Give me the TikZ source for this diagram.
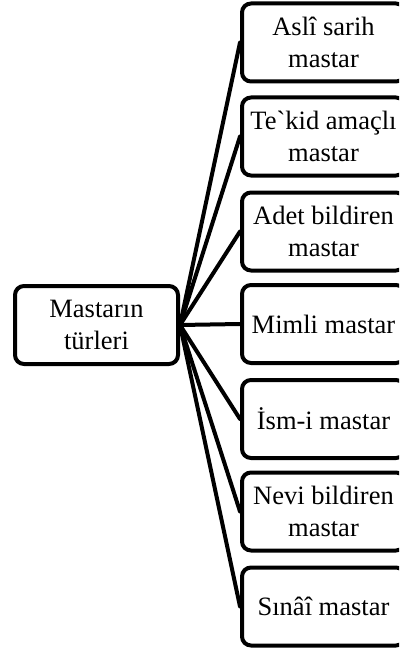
\documentclass[tikz,border=0pt]{standalone}
\usepackage{fontspec}
\setmainfont{Liberation Serif}
\begin{document}
\begin{tikzpicture}[x=1pt,y=-1pt,
  box/.style={draw=black, line width=4pt, rounded corners=9pt, fill=white,
    minimum width=163pt, minimum height=78pt, inner sep=0pt, align=center,
    font=\fontsize{26.5}{32}\selectfont},
  link/.style={draw=black, line width=4pt, line cap=round}]
  \useasboundingbox (0,0) rectangle (399,655);
  \clip (0,0) rectangle (399,655);
  % root and its seven kinds
  \node[box] (root) at (96.5,325) {Mastarın\\türleri};
  \node[box] (k1) at (323.5,42.5)  {Aslî sarih\\mastar};
  \node[box] (k2) at (323.5,136.5) {Te\textasciigrave kid amaçlı\\mastar};
  \node[box] (k3) at (323.5,231.5) {Adet bildiren\\mastar};
  \node[box] (k4) at (323.5,324)   {Mimli mastar};
  \node[box] (k5) at (323.5,419)   {İsm-i mastar};
  \node[box] (k6) at (323.5,511.5) {Nevi bildiren\\mastar};
  \node[box] (k7) at (323.5,606.5) {Sınâî mastar};
  % connectors fanning out from the root
  \foreach \k in {k1,k2,k3,k4,k5,k6,k7}
    \draw[link] (root.east) -- (\k.west);
\end{tikzpicture}
\end{document}
